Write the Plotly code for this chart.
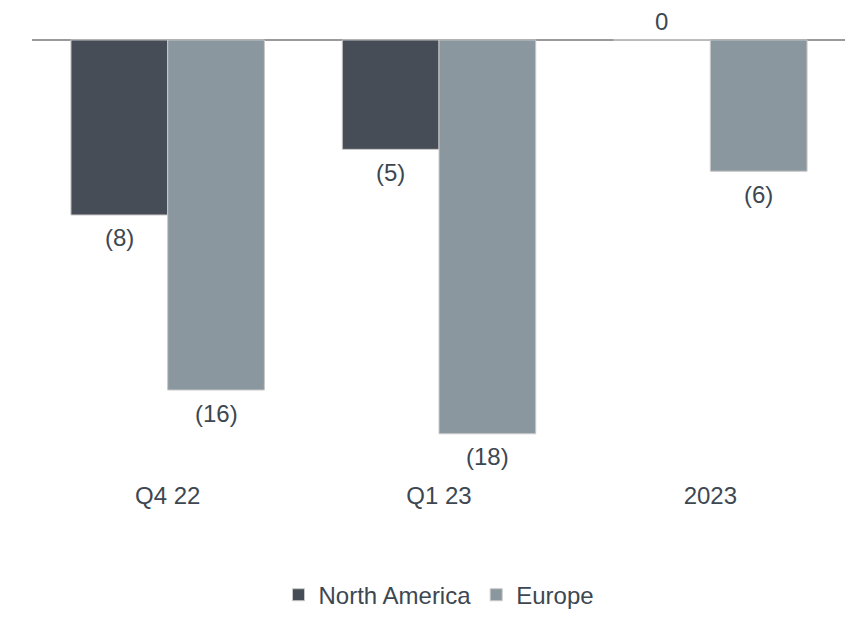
import plotly.graph_objects as go

categories = ["Q4 22", "Q1 23", "2023"]
north_america = [-8, -5, 0]
europe = [-16, -18, -6]
series_names = ["North America", "Europe"]
colors = ["#464d56", "#8a979f"]

def fmt(v):
    return "0" if v == 0 else f"({abs(v):g})"

FONT = "Liberation Sans, Arial, sans-serif"
font_color = "#3d4751"
FS = 24

fig = go.Figure()
for name, vals, col in zip(series_names, [north_america, europe], colors):
    fig.add_trace(go.Bar(
        x=categories, y=vals, name=name,
        marker=dict(color=col, line=dict(color="#c8c8c8", width=1)),
    ))

annotations = []
for i, vals in enumerate([north_america, europe]):
    for j, v in enumerate(vals):
        annotations.append(dict(
            x=j, y=v, xref="x", yref="y", text=fmt(v), showarrow=False,
            xshift=(-48.5 if i == 0 else 48.5),
            yshift=(18 if v == 0 else -23),
            font=dict(size=FS, color=font_color, family=FONT),
        ))

fig.update_layout(
    width=853, height=635,
    margin=dict(l=24, r=15, t=12, b=168, autoexpand=False),
    plot_bgcolor="white", paper_bgcolor="white",
    barmode="group", bargap=0.287, bargroupgap=0,
    font=dict(family=FONT, size=FS, color=font_color),
    xaxis=dict(type="category", range=[-0.5, 2.5], showgrid=False, showline=False, ticks="",
               ticklabelstandoff=4, tickfont=dict(size=FS, color=font_color)),
    yaxis=dict(range=[-19.885, 0.913], showgrid=False, showticklabels=False,
               zeroline=True, zerolinecolor="#9a9a9a", zerolinewidth=2),
    legend=dict(orientation="h", x=0.5, xanchor="center", y=-0.264, yanchor="middle",
                font=dict(size=FS, color=font_color)),
    annotations=annotations,
)

fig.write_html("out.html")
